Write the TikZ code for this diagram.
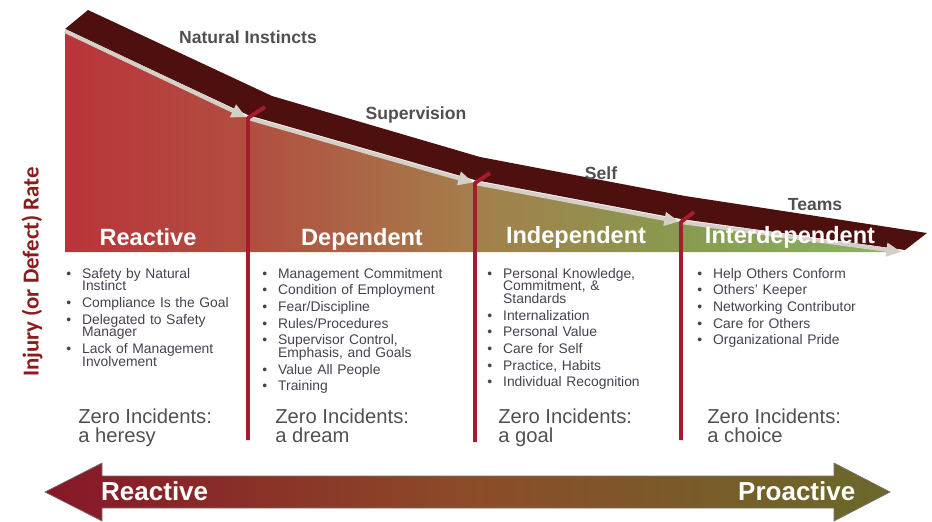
\documentclass[tikz,border=0pt]{standalone}
\usepackage{fontspec}
\setmainfont{Liberation Sans}
\newfontfamily\axisfont{Carlito}
\usetikzlibrary{arrows.meta}

\definecolor{bandbrown}{RGB}{78,16,14}
\definecolor{trackgray}{RGB}{212,208,200}
\definecolor{stagered}{RGB}{163,29,46}
\definecolor{labelgray}{RGB}{80,80,80}
\definecolor{listgray}{RGB}{72,64,80}
\definecolor{axisred}{RGB}{140,28,28}
\definecolor{areaA}{RGB}{185,52,58}
\definecolor{areaB}{RGB}{178,78,64}
\definecolor{areaC}{RGB}{165,125,75}
\definecolor{areaD}{RGB}{135,155,80}
\definecolor{areaE}{RGB}{140,180,100}
\definecolor{arrowL}{RGB}{135,22,40}
\definecolor{arrowM}{RGB}{140,75,40}
\definecolor{arrowR}{RGB}{105,105,42}

\pgfdeclarehorizontalshading{stageshade}{100bp}{color(0bp)=(areaA); color(25bp)=(areaA); color(36bp)=(areaB); color(49bp)=(areaC); color(62bp)=(areaD); color(75bp)=(areaE); color(100bp)=(areaE)}

% one bullet of a stage list
\newcommand{\litem}[1]{\par\hangindent=9pt\hangafter=1\noindent\hbox to 9pt{\textbullet\hss}#1\par}

\begin{document}
\begin{tikzpicture}[x=0.02cm,y=-0.02cm,
    stagehead/.style={text=white,font=\fontsize{13.4}{14}\selectfont\bfseries,anchor=base},
    curvelabel/.style={text=labelgray,font=\fontsize{10}{12}\selectfont\bfseries},
    bulletlist/.style={anchor=north west,inner sep=0pt,text width=4.2cm,align=left,text=listgray,
        font=\fontsize{7.9}{7.2}\selectfont,
        execute at begin node={\setlength{\parskip}{2.3pt}\lineskiplimit=-5pt}},
    zerotext/.style={anchor=north west,inner sep=0pt,align=left,text=labelgray,font=\fontsize{11.5}{11.3}\selectfont},
    track/.style={draw=trackgray,line width=2.3pt,-{Triangle[length=8.5pt,width=7.5pt]},shorten >=1pt},
    stageline/.style={draw=stagered,line width=2.2pt,line join=round},
    endtext/.style={text=white,font=\fontsize{14.8}{16}\selectfont\bfseries,anchor=base west}]

    \useasboundingbox (0,0) rectangle (932,521);

    % kinks of the track
    \coordinate (k0) at (65,31);
    \coordinate (k1) at (248,118);
    \coordinate (k2) at (475,183);
    \coordinate (k3) at (681,222);
    \coordinate (k4) at (903,252);

    % area under the curve
    \shade[shading=stageshade] (k0) -- (k1) -- (k2) -- (k3) -- (k4) -- (65,252) -- cycle;

    % dark band on top
    \fill[bandbrown] (65,29) -- (248,115) -- (475,180) -- (681,219) -- (905,250) -- (927,233)
        -- (685,196) -- (480,157) -- (272,96) -- (88,10) -- cycle;

    % gray track arrows
    \draw[track] (k0) -- (k1);
    \draw[track] (k1) -- (k2);
    \draw[track] (k2) -- (k3);
    \draw[track] (k3) -- (k4);

    %%%%%%%%%%%%%%%%%%%%%%%%%%%%%%%%%%%%%%%%%%%%%%%%%%%%%%

    % stage borders
    \coordinate (b1) at (248,440);
    \coordinate (b2) at (475,442);
    \coordinate (b3) at (681,440);
    \draw[stageline] (b1) -- (k1) -- ++(17,-11);
    \draw[stageline] (b2) -- (k2) -- ++(15,-10);
    \draw[stageline] (b3) -- (k3) -- ++(13,-10);

    % labels along the curve
    \node[curvelabel] (natinst) at (248,37) {Natural Instincts};
    \node[curvelabel] (superv) at (416,115) {Supervision};
    \node[curvelabel] (self) at (601,173) {Self};
    \node[curvelabel] (teams) at (815,205) {Teams};

    % stage names
    \node[stagehead] (hreact) at (148,245) {Reactive};
    \node[stagehead] (hdep) at (362,245) {Dependent};
    \node[stagehead] (hindep) at (576,243) {Independent};
    \node[stagehead] (hinter) at (790,243) {Interdependent};

    % vertical axis
    \node[rotate=90,text=axisred,font=\axisfont\fontsize{13}{14}\selectfont\bfseries] (ylab) at (32,272) {Injury (or Defect) Rate};

    %%%%%%%%%%%%%%%%%%%%%%%%%%%%%%%%%%%%%%%%%%%%%%%%%%%%%%

    % reactive
    \node[bulletlist] (lreact) at (66,261) {\litem{Safety by Natural\newline Instinct}\litem{Compliance Is the Goal}\litem{Delegated to Safety\newline Manager}\litem{Lack of Management\newline Involvement}};
    \node[zerotext] (zreact) at (78,408) {Zero Incidents:\\a heresy};

    % dependent
    \node[bulletlist] (ldep) at (262,261) {\litem{Management Commitment}\litem{Condition of Employment}\litem{Fear/Discipline}\litem{Rules/Procedures}\litem{Supervisor Control,\newline Emphasis, and Goals}\litem{Value All People}\litem{Training}};
    \node[zerotext] (zdep) at (275,408) {Zero Incidents:\\a dream};

    % independent
    \node[bulletlist] (lindep) at (487,261) {\litem{Personal Knowledge,\newline Commitment, \&\newline Standards}\litem{Internalization}\litem{Personal Value}\litem{Care for Self}\litem{Practice, Habits}\litem{Individual Recognition}};
    \node[zerotext] (zindep) at (498,408) {Zero Incidents:\\a goal};

    % interdependent
    \node[bulletlist] (linter) at (697,261) {\litem{Help Others Conform}\litem{Others' Keeper}\litem{Networking Contributor}\litem{Care for Others}\litem{Organizational Pride}};
    \node[zerotext] (zinter) at (707,408) {Zero Incidents:\\a choice};

    %%%%%%%%%%%%%%%%%%%%%%%%%%%%%%%%%%%%%%%%%%%%%%%%%%%%%%

    % reactive to proactive arrow
    \shadedraw[left color=arrowL,right color=arrowR,middle color=arrowM,draw=black!55,line width=0.4pt]
        (45,492) -- (102,463) -- (102,476) -- (834,476) -- (834,463) -- (890,492)
        -- (834,521) -- (834,508) -- (102,508) -- (102,521) -- cycle;
    \node[endtext] (preact) at (95,500) {Reactive};
    \node[endtext] (pproact) at (732,500) {Proactive};

\end{tikzpicture}
\end{document}
